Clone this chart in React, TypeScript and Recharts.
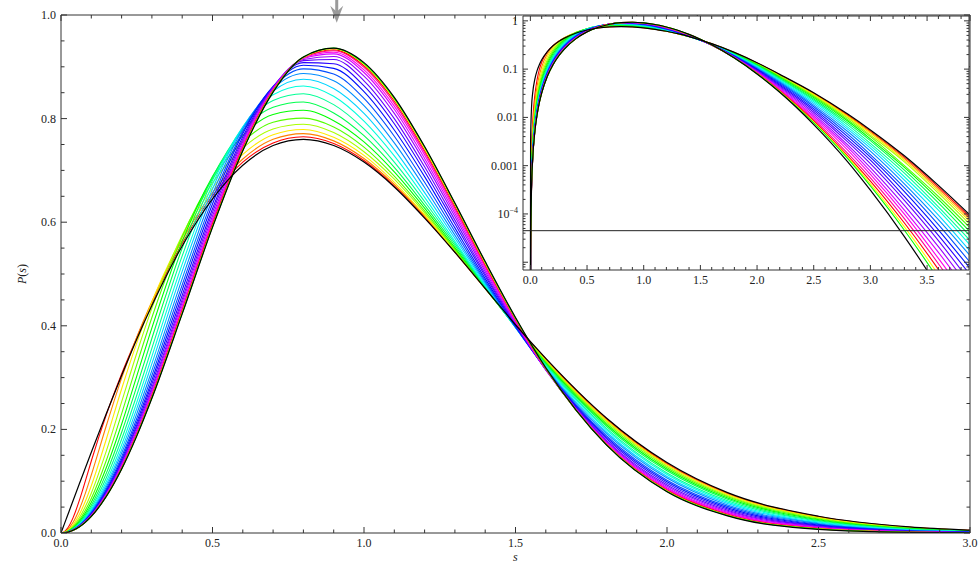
import React from "react";
import { LineChart, Line, XAxis, YAxis, ReferenceLine } from "recharts";

// spacing s where the curves were sampled
const sValues = [0.000001, 0.002, 0.01, 0.02, 0.04, 0.06, 0.08, 0.1, 0.15, 0.2, 0.25, 0.3, 0.4, 0.5, 0.6, 0.7, 0.8, 0.9, 1.0, 1.1, 1.2, 1.3, 1.4, 1.5, 1.6, 1.8, 2.0, 2.2, 2.5, 2.8, 3.0, 3.3, 3.6, 3.9];

// black limit curves
const goeValues = [1.6e-6, 3.1e-3, 0.0157, 0.0314, 0.0628, 0.094, 0.125, 0.156, 0.231, 0.304, 0.374, 0.439, 0.554, 0.645, 0.71, 0.748, 0.76, 0.748, 0.716, 0.668, 0.608, 0.542, 0.472, 0.402, 0.337, 0.222, 0.136, 0.0779, 0.0324, 0.0117, 5.5e-3, 1.6e-3, 3.9e-4, 8.5e-5];
const gueValues = [3.2e-12, 1.3e-5, 3.2e-4, 1.3e-3, 5.2e-3, 0.0116, 0.0206, 0.032, 0.0709, 0.123, 0.187, 0.26, 0.423, 0.59, 0.738, 0.851, 0.919, 0.936, 0.908, 0.841, 0.746, 0.637, 0.524, 0.416, 0.319, 0.17, 0.0796, 0.0331, 7.1e-3, 1.2e-3, 3.1e-4, 3.4e-5, 2.9e-6, 1.9e-7];

// crossover curves, one row per coloured line (GOE side first)
const crossoverParams = [0.08, 0.12, 0.16, 0.2, 0.24, 0.28, 0.32, 0.36, 0.4, 0.44, 0.48, 0.52, 0.56, 0.6, 0.64, 0.68, 0.72, 0.76, 0.8, 0.84, 0.88, 0.92];
const crossoverValues = [
  [2.0e-11, 7.9e-5, 2.0e-3, 7.8e-3, 0.0297, 0.0619, 0.0997, 0.139, 0.229, 0.307, 0.377, 0.443, 0.559, 0.651, 0.716, 0.753, 0.765, 0.752, 0.719, 0.67, 0.61, 0.542, 0.472, 0.402, 0.336, 0.221, 0.134, 0.0768, 0.0316, 0.0112, 5.2e-3, 1.5e-3, 3.6e-4, 7.7e-5],
  [1.3e-11, 5.3e-5, 1.3e-3, 5.3e-3, 0.0207, 0.045, 0.0761, 0.112, 0.208, 0.299, 0.378, 0.447, 0.565, 0.657, 0.722, 0.76, 0.771, 0.757, 0.723, 0.673, 0.612, 0.543, 0.472, 0.401, 0.334, 0.219, 0.133, 0.0756, 0.0307, 0.0108, 5.0e-3, 1.4e-3, 3.3e-4, 7.0e-5],
  [1.0e-11, 4.1e-5, 1.0e-3, 4.0e-3, 0.016, 0.0352, 0.0607, 0.0913, 0.182, 0.278, 0.367, 0.446, 0.571, 0.666, 0.731, 0.769, 0.779, 0.764, 0.729, 0.677, 0.614, 0.544, 0.472, 0.401, 0.333, 0.217, 0.131, 0.074, 0.0297, 0.0103, 4.7e-3, 1.3e-3, 3.0e-4, 6.2e-5],
  [8.3e-12, 3.3e-5, 8.3e-4, 3.3e-3, 0.0131, 0.029, 0.0505, 0.0769, 0.159, 0.253, 0.347, 0.434, 0.575, 0.676, 0.743, 0.78, 0.789, 0.773, 0.736, 0.683, 0.618, 0.546, 0.472, 0.4, 0.332, 0.215, 0.129, 0.0721, 0.0285, 9.7e-3, 4.3e-3, 1.2e-3, 2.7e-4, 5.4e-5],
  [7.0e-12, 2.8e-5, 7.0e-4, 2.8e-3, 0.0111, 0.0248, 0.0435, 0.0667, 0.141, 0.23, 0.325, 0.416, 0.572, 0.684, 0.755, 0.793, 0.801, 0.784, 0.745, 0.689, 0.622, 0.548, 0.473, 0.399, 0.33, 0.212, 0.126, 0.0699, 0.0271, 9.0e-3, 4.0e-3, 1.0e-3, 2.3e-4, 4.6e-5],
  [6.2e-12, 2.5e-5, 6.2e-4, 2.5e-3, 9.8e-3, 0.0219, 0.0384, 0.0592, 0.127, 0.21, 0.303, 0.396, 0.563, 0.688, 0.767, 0.808, 0.816, 0.796, 0.755, 0.697, 0.627, 0.551, 0.474, 0.398, 0.328, 0.209, 0.123, 0.0675, 0.0257, 8.4e-3, 3.6e-3, 9.2e-4, 2.0e-4, 3.8e-5],
  [5.5e-12, 2.2e-5, 5.5e-4, 2.2e-3, 8.8e-3, 0.0197, 0.0346, 0.0535, 0.116, 0.194, 0.283, 0.376, 0.55, 0.687, 0.777, 0.822, 0.832, 0.811, 0.767, 0.706, 0.633, 0.555, 0.475, 0.398, 0.326, 0.206, 0.12, 0.065, 0.0241, 7.7e-3, 3.3e-3, 8.1e-4, 1.7e-4, 3.1e-5],
  [5.0e-12, 2.0e-5, 5.0e-4, 2.0e-3, 8.0e-3, 0.018, 0.0317, 0.0491, 0.107, 0.181, 0.266, 0.357, 0.535, 0.681, 0.782, 0.835, 0.848, 0.827, 0.78, 0.716, 0.64, 0.559, 0.476, 0.397, 0.324, 0.202, 0.116, 0.0623, 0.0226, 7.0e-3, 2.9e-3, 7.0e-4, 1.4e-4, 2.5e-5],
  [4.7e-12, 1.9e-5, 4.7e-4, 1.9e-3, 7.5e-3, 0.0167, 0.0295, 0.0456, 0.0997, 0.17, 0.252, 0.341, 0.519, 0.673, 0.784, 0.846, 0.863, 0.843, 0.795, 0.728, 0.648, 0.563, 0.478, 0.397, 0.322, 0.199, 0.113, 0.0596, 0.0211, 6.3e-3, 2.6e-3, 5.9e-4, 1.2e-4, 2.0e-5],
  [4.4e-12, 1.8e-5, 4.4e-4, 1.8e-3, 7.0e-3, 0.0157, 0.0277, 0.0429, 0.094, 0.161, 0.24, 0.327, 0.505, 0.664, 0.783, 0.853, 0.876, 0.858, 0.81, 0.74, 0.657, 0.569, 0.481, 0.397, 0.32, 0.195, 0.109, 0.0569, 0.0195, 5.7e-3, 2.3e-3, 5.0e-4, 9.5e-5, 1.5e-5],
  [4.1e-12, 1.7e-5, 4.1e-4, 1.7e-3, 6.6e-3, 0.0148, 0.0262, 0.0407, 0.0893, 0.154, 0.23, 0.314, 0.491, 0.654, 0.78, 0.858, 0.887, 0.873, 0.825, 0.753, 0.667, 0.575, 0.484, 0.397, 0.318, 0.192, 0.106, 0.0541, 0.018, 5.1e-3, 2.0e-3, 4.2e-4, 7.6e-5, 1.2e-5],
  [4.0e-12, 1.6e-5, 4.0e-4, 1.6e-3, 6.3e-3, 0.0142, 0.025, 0.0389, 0.0855, 0.147, 0.221, 0.304, 0.479, 0.644, 0.775, 0.861, 0.896, 0.886, 0.839, 0.766, 0.677, 0.582, 0.487, 0.398, 0.317, 0.188, 0.102, 0.0514, 0.0166, 4.5e-3, 1.7e-3, 3.5e-4, 6.0e-5, 8.7e-6],
  [3.8e-12, 1.5e-5, 3.8e-4, 1.5e-3, 6.1e-3, 0.0136, 0.0241, 0.0374, 0.0824, 0.142, 0.214, 0.295, 0.469, 0.635, 0.771, 0.862, 0.903, 0.897, 0.852, 0.778, 0.688, 0.589, 0.491, 0.399, 0.316, 0.185, 0.099, 0.0488, 0.0152, 4.0e-3, 1.5e-3, 2.9e-4, 4.7e-5, 6.5e-6],
  [3.7e-12, 1.5e-5, 3.7e-4, 1.5e-3, 5.9e-3, 0.0132, 0.0233, 0.0362, 0.0799, 0.138, 0.208, 0.288, 0.459, 0.626, 0.765, 0.861, 0.908, 0.906, 0.863, 0.79, 0.698, 0.597, 0.496, 0.401, 0.316, 0.182, 0.0958, 0.0463, 0.014, 3.5e-3, 1.3e-3, 2.3e-4, 3.6e-5, 4.8e-6],
  [3.6e-12, 1.4e-5, 3.6e-4, 1.4e-3, 5.7e-3, 0.0128, 0.0227, 0.0352, 0.0778, 0.135, 0.204, 0.281, 0.451, 0.619, 0.76, 0.861, 0.912, 0.914, 0.873, 0.8, 0.707, 0.604, 0.5, 0.403, 0.315, 0.179, 0.0927, 0.044, 0.0128, 3.1e-3, 1.1e-3, 1.9e-4, 2.8e-5, 3.4e-6],
  [3.5e-12, 1.4e-5, 3.5e-4, 1.4e-3, 5.6e-3, 0.0125, 0.0221, 0.0344, 0.076, 0.132, 0.199, 0.276, 0.445, 0.612, 0.756, 0.859, 0.914, 0.92, 0.882, 0.81, 0.716, 0.611, 0.505, 0.405, 0.315, 0.177, 0.09, 0.0418, 0.0117, 2.7e-3, 9.1e-4, 1.5e-4, 2.1e-5, 2.5e-6],
  [3.4e-12, 1.4e-5, 3.4e-4, 1.4e-3, 5.5e-3, 0.0123, 0.0217, 0.0338, 0.0746, 0.13, 0.196, 0.272, 0.439, 0.606, 0.751, 0.858, 0.916, 0.925, 0.889, 0.818, 0.723, 0.617, 0.509, 0.407, 0.316, 0.175, 0.0875, 0.0398, 0.0107, 2.4e-3, 7.7e-4, 1.2e-4, 1.6e-5, 1.8e-6],
  [3.4e-12, 1.3e-5, 3.4e-4, 1.3e-3, 5.4e-3, 0.0121, 0.0214, 0.0332, 0.0735, 0.128, 0.193, 0.268, 0.434, 0.602, 0.748, 0.856, 0.917, 0.928, 0.894, 0.824, 0.73, 0.622, 0.513, 0.409, 0.316, 0.173, 0.0853, 0.0381, 9.9e-3, 2.1e-3, 6.6e-4, 9.9e-5, 1.2e-5, 1.3e-6],
  [3.3e-12, 1.3e-5, 3.3e-4, 1.3e-3, 5.3e-3, 0.0119, 0.0211, 0.0328, 0.0726, 0.126, 0.191, 0.266, 0.431, 0.598, 0.745, 0.855, 0.918, 0.931, 0.899, 0.83, 0.735, 0.627, 0.516, 0.411, 0.317, 0.172, 0.0835, 0.0366, 9.1e-3, 1.8e-3, 5.6e-4, 8.0e-5, 9.3e-6, 8.9e-7],
  [3.3e-12, 1.3e-5, 3.3e-4, 1.3e-3, 5.3e-3, 0.0118, 0.0209, 0.0325, 0.072, 0.125, 0.19, 0.264, 0.428, 0.595, 0.742, 0.854, 0.918, 0.933, 0.902, 0.834, 0.739, 0.631, 0.519, 0.413, 0.317, 0.171, 0.0821, 0.0353, 8.5e-3, 1.6e-3, 4.8e-4, 6.5e-5, 7.1e-6, 6.3e-7],
  [3.3e-12, 1.3e-5, 3.3e-4, 1.3e-3, 5.2e-3, 0.0117, 0.0208, 0.0323, 0.0715, 0.124, 0.189, 0.262, 0.426, 0.592, 0.74, 0.853, 0.918, 0.935, 0.905, 0.837, 0.742, 0.634, 0.521, 0.414, 0.318, 0.171, 0.081, 0.0344, 8.0e-3, 1.5e-3, 4.2e-4, 5.4e-5, 5.5e-6, 4.6e-7],
  [3.3e-12, 1.3e-5, 3.3e-4, 1.3e-3, 5.2e-3, 0.0117, 0.0207, 0.0321, 0.0711, 0.124, 0.188, 0.261, 0.424, 0.591, 0.739, 0.852, 0.919, 0.936, 0.906, 0.839, 0.745, 0.636, 0.523, 0.415, 0.318, 0.17, 0.0802, 0.0337, 7.7e-3, 1.4e-3, 3.8e-4, 4.6e-5, 4.4e-6, 3.4e-7],
];

// ticks
const mainXTicks = [0, 0.1, 0.2, 0.3, 0.4, 0.5, 0.6, 0.7, 0.8, 0.9, 1, 1.1, 1.2, 1.3, 1.4, 1.5, 1.6, 1.7, 1.8, 1.9, 2, 2.1, 2.2, 2.3, 2.4, 2.5, 2.6, 2.7, 2.8, 2.9, 3];
const mainYTicks = [0, 0.05, 0.1, 0.15, 0.2, 0.25, 0.3, 0.35, 0.4, 0.45, 0.5, 0.55, 0.6, 0.65, 0.7, 0.75, 0.8, 0.85, 0.9, 0.95, 1];
const insetXTicks = [0, 0.1, 0.2, 0.3, 0.4, 0.5, 0.6, 0.7, 0.8, 0.9, 1, 1.1, 1.2, 1.3, 1.4, 1.5, 1.6, 1.7, 1.8, 1.9, 2, 2.1, 2.2, 2.3, 2.4, 2.5, 2.6, 2.7, 2.8, 2.9, 3, 3.1, 3.2, 3.3, 3.4, 3.5, 3.6, 3.7, 3.8];
const insetDecades = [1e-5, 1e-4, 1e-3, 1e-2, 1e-1];
const insetYTicks = [8e-6, 9e-6, ...insetDecades.flatMap((d) => [1, 2, 3, 4, 5, 6, 7, 8, 9].map((k) => +(k * d).toPrecision(1))), 1];
const insetThreshold = 4.5e-5;
const arrowS = 0.91;

const rows = sValues.map((s, i) => {
  const row: Record<string, number> = { s, goe: goeValues[i], gue: gueValues[i] };
  crossoverValues.forEach((vals, k) => {
    row["c" + k] = vals[i];
  });
  return row;
});

const FRAME = "#333";
const FONT = "'Liberation Serif', 'Times New Roman', serif";
// rainbow that wraps past red back to green on the GUE side
const HUES = [0, 30, 55, 80, 100, 120, 138, 155, 172, 190, 207, 222, 236, 250, 263, 276, 290, 305, 325, 360, 420, 480];
const hue = (k: number) => `hsl(${HUES[k] % 360}, 100%, 50%)`;
const near = (v: number, step: number) => Math.abs(v / step - Math.round(v / step)) < 1e-6;
const isDecade = (v: number) => near(Math.log10(v), 1);

function Tick(props: any) {
  const { x, y, payload, side, major, label, big = 6, small = 3.5 } = props;
  const v = payload.value;
  const isMajor = major(v);
  const len = isMajor ? big : small;
  const text = isMajor && label ? label(v) : null;
  let line = null;
  let lab = null;
  if (side === "bottom") {
    line = <line x1={x} x2={x} y1={y} y2={y - len} stroke={FRAME} />;
    if (text) lab = <text x={x} y={y + 14} textAnchor="middle" fontSize={12} fontFamily={FONT} fill="#222">{text}</text>;
  } else if (side === "top") {
    line = <line x1={x} x2={x} y1={y} y2={y + len} stroke={FRAME} />;
  } else if (side === "left") {
    line = <line x1={x} x2={x + len} y1={y} y2={y} stroke={FRAME} />;
    if (text) lab = <text x={x - 5} y={y + 4} textAnchor="end" fontSize={12} fontFamily={FONT} fill="#222">{text}</text>;
  } else {
    line = <line x1={x} x2={x - len} y1={y} y2={y} stroke={FRAME} />;
  }
  return <g>{line}{lab}</g>;
}

function insetYLabel(v: number) {
  const e = Math.round(Math.log10(v));
  if (e === 0) return "1";
  if (e === -1) return "0.1";
  if (e === -2) return "0.01";
  if (e === -3) return "0.001";
  if (e === -4)
    return (
      <>
        10<tspan dy={-5} fontSize={8}>−4</tspan>
      </>
    );
  return null;
}

function Arrow(props: any) {
  const { x1, y1, x2, y2 } = props;
  return (
    <g fill="#9a9a9a" stroke="none">
      <line x1={x1} y1={y1} x2={x2} y2={y2 - 10} stroke="#9a9a9a" strokeWidth={3} />
      <path d={`M${x2},${y2} L${x2 - 6.5},${y2 - 17} L${x2},${y2 - 11} L${x2 + 6.5},${y2 - 17} Z`} />
    </g>
  );
}

function curves() {
  return [
    ...crossoverParams.map((p, k) => (
      <Line key={"c" + p} dataKey={"c" + k} type="monotone" stroke={hue(k)} strokeWidth={1.1} dot={false} activeDot={false} isAnimationActive={false} />
    )),
    <Line key="goe" dataKey="goe" type="monotone" stroke="#000" strokeWidth={1.2} dot={false} activeDot={false} isAnimationActive={false} />,
    <Line key="gue" dataKey="gue" type="monotone" stroke="#000" strokeWidth={1.2} dot={false} activeDot={false} isAnimationActive={false} />,
  ];
}

export default function App() {
  const mx = (v: number) => near(v, 0.5);
  const my = (v: number) => near(v, 0.2);
  return (
    <div style={{ position: "absolute", left: 0, top: 0, width: 978, height: 569, background: "#fff", fontFamily: FONT }}>
      <LineChart width={978} height={569} data={rows} margin={{ top: 14, right: 7, bottom: 35, left: 60 }}>
        <XAxis dataKey="s" type="number" domain={[0, 3]} allowDataOverflow ticks={mainXTicks} interval={0} height={1} tickSize={0} tickMargin={0} axisLine={{ stroke: FRAME }} tickLine={false}
          tick={(p: any) => <Tick {...p} side="bottom" major={mx} label={(v: number) => v.toFixed(1)} />} />
        <XAxis xAxisId="top" orientation="top" dataKey="s" type="number" domain={[0, 3]} allowDataOverflow ticks={mainXTicks} interval={0} height={1} tickSize={0} tickMargin={0} axisLine={{ stroke: FRAME }} tickLine={false}
          tick={(p: any) => <Tick {...p} side="top" major={mx} />} />
        <YAxis type="number" domain={[0, 1]} allowDataOverflow ticks={mainYTicks} interval={0} width={1} tickSize={0} tickMargin={0} axisLine={{ stroke: FRAME }} tickLine={false}
          tick={(p: any) => <Tick {...p} side="left" major={my} label={(v: number) => v.toFixed(1)} />} />
        <YAxis yAxisId="right" orientation="right" type="number" domain={[0, 1]} allowDataOverflow ticks={mainYTicks} interval={0} width={1} tickSize={0} tickMargin={0} axisLine={{ stroke: FRAME }} tickLine={false}
          tick={(p: any) => <Tick {...p} side="right" major={my} />} />
        {curves()}
        <ReferenceLine segment={[{ x: arrowS, y: 1.03 }, { x: arrowS, y: 0.985 }]} ifOverflow="visible" shape={(p: any) => <Arrow {...p} />} />
      </LineChart>

      <div style={{ position: "absolute", left: 6, top: 274, transform: "translate(-50%, -50%) rotate(-90deg)", transformOrigin: "center", marginLeft: 16, fontSize: 12, whiteSpace: "nowrap", color: "#222" }}>
        <i>P</i>(<i>s</i>)
      </div>
      <div style={{ position: "absolute", left: 513, top: 551, fontSize: 12, lineHeight: "12px", fontStyle: "italic", color: "#222" }}>s</div>

      <div style={{ position: "absolute", left: 523, top: 16, width: 446, height: 254, background: "#fff" }} />
      <div style={{ position: "absolute", left: 470, top: 0 }}>
        <LineChart width={508} height={300} data={rows} margin={{ top: 15, right: 8, bottom: 29, left: 52 }}>
          <XAxis dataKey="s" type="number" domain={[-0.065, 3.87]} allowDataOverflow ticks={insetXTicks} interval={0} height={1} tickSize={0} tickMargin={0} axisLine={{ stroke: FRAME }} tickLine={false}
            tick={(p: any) => <Tick {...p} side="bottom" major={mx} big={5} small={3} label={(v: number) => v.toFixed(1)} />} />
          <XAxis xAxisId="top" orientation="top" dataKey="s" type="number" domain={[-0.065, 3.87]} allowDataOverflow ticks={insetXTicks} interval={0} height={1} tickSize={0} tickMargin={0} axisLine={{ stroke: FRAME }} tickLine={false}
            tick={(p: any) => <Tick {...p} side="top" major={mx} big={5} small={3} />} />
          <YAxis type="number" scale="log" domain={[6.9e-6, 1.26]} allowDataOverflow ticks={insetYTicks} interval={0} width={1} tickSize={0} tickMargin={0} axisLine={{ stroke: FRAME }} tickLine={false}
            tick={(p: any) => <Tick {...p} side="left" major={isDecade} big={5} small={2.5} label={insetYLabel} />} />
          <YAxis yAxisId="right" orientation="right" type="number" scale="log" domain={[6.9e-6, 1.26]} allowDataOverflow ticks={insetYTicks} interval={0} width={1} tickSize={0} tickMargin={0} axisLine={{ stroke: FRAME }} tickLine={false}
            tick={(p: any) => <Tick {...p} side="right" major={isDecade} big={5} small={2.5} />} />
          {curves()}
          <ReferenceLine y={insetThreshold} stroke="#222" strokeWidth={1} />
        </LineChart>
      </div>
    </div>
  );
}
